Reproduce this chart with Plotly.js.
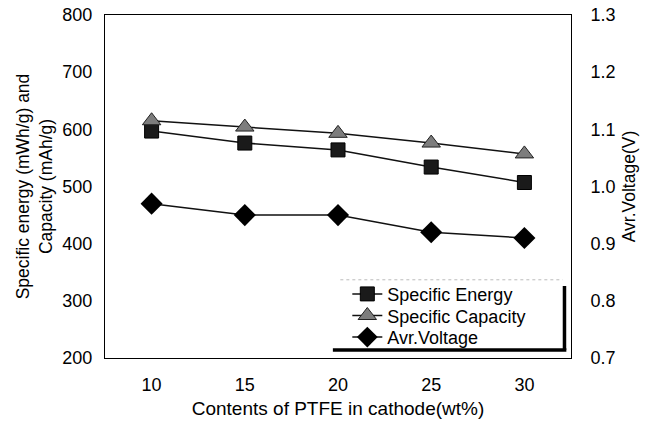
<!DOCTYPE html>
<html><head><meta charset="utf-8">
<script src="https://cdn.plot.ly/plotly-3.0.1.min.js"></script>
<style>body{margin:0;background:#fff}#chart{width:653px;height:424px}</style>
</head><body><div id="chart"></div>
<script>
const ptfe = [10, 15, 20, 25, 30];
const specificEnergy = [597, 576, 564, 534, 507];
const specificCapacity = [615, 604, 593, 576, 557];
const avrVoltage = [0.97, 0.95, 0.95, 0.92, 0.91];
const xTicks = [10, 15, 20, 25, 30];

const lineStyle = {color: '#111', width: 1.5};
const traces = [
  {x: ptfe, y: specificEnergy, name: 'Specific Energy', mode: 'lines+markers', line: lineStyle, legend: 'legend',
   marker: {symbol: 'square', size: 14, color: '#1a1a1a', line: {color: '#000', width: 1}}},
  {x: ptfe, y: specificCapacity, name: 'Specific Capacity', mode: 'lines+markers', line: lineStyle, legend: 'legend2',
   marker: {symbol: 'triangle-up', size: 16, color: '#7d7d7d', line: {color: '#222', width: 1}}},
  {x: ptfe, y: avrVoltage, name: 'Avr.Voltage', yaxis: 'y2', mode: 'lines+markers', line: lineStyle, legend: 'legend3',
   marker: {symbol: 'diamond', size: 17, color: '#000'}}
];

const fam = 'Liberation Sans, Arial, sans-serif';
const tickFont = {family: fam, size: 18, color: '#000'};
const titleFont = {family: fam, size: 17.5, color: '#000'};
const legFont = {family: fam, size: 18, color: '#000'};
function leg(y) {
  return {x: 0.52, y: y, xanchor: 'left', yanchor: 'middle', bgcolor: 'rgba(0,0,0,0)', borderwidth: 0,
    font: legFont, itemwidth: 30};
}
const layout = {
  width: 653, height: 424,
  margin: {l: 105, r: 82, t: 15, b: 66},
  paper_bgcolor: '#fff', plot_bgcolor: '#fff',
  font: tickFont,
  showlegend: true,
  xaxis: {range: [7.5, 32.5], tickvals: xTicks, ticktext: xTicks.map(String), showgrid: false, zeroline: false,
    showline: true, mirror: true, linecolor: '#000', linewidth: 1, ticks: '', tickfont: tickFont, ticklabelstandoff: 10,
    title: {text: 'Contents of PTFE in cathode(wt%)', font: {family: fam, size: 19, color: '#000'}, standoff: 8}},
  yaxis: {range: [200, 800], dtick: 100, showgrid: false, zeroline: false,
    showline: true, linecolor: '#000', linewidth: 1, ticks: '', tickfont: tickFont, ticklabelstandoff: 8,
    title: {text: 'Specific energy (mWh/g) and<br>Capacity (mAh/g)', font: titleFont, standoff: 5}},
  yaxis2: {range: [0.7, 1.3], dtick: 0.1, tickformat: '.1f', overlaying: 'y', side: 'right', showgrid: false, zeroline: false,
    showline: true, linecolor: '#000', linewidth: 1, ticks: '', tickfont: tickFont, ticklabelstandoff: 15,
    title: {text: 'Avr.Voltage(V)', font: titleFont, standoff: 8}},
  legend: leg(0.186),
  legend2: leg(0.123),
  legend3: leg(0.060),
  shapes: [
    {type: 'rect', xref: 'paper', yref: 'paper', layer: 'above', x0: 0.505, x1: 0.986, y0: 0.025, y1: 0.228,
     fillcolor: '#fff', line: {width: 0}},
    {type: 'line', xref: 'paper', yref: 'paper', layer: 'above', x0: 0.505, x1: 0.982, y0: 0.228, y1: 0.228,
     line: {color: '#bbb', width: 1, dash: 'dot'}},
    {type: 'line', xref: 'paper', yref: 'paper', layer: 'above', x0: 0.986, x1: 0.986, y0: 0.023, y1: 0.21,
     line: {color: '#000', width: 3.5}},
    {type: 'line', xref: 'paper', yref: 'paper', layer: 'above', x0: 0.489, x1: 0.99, y0: 0.023, y1: 0.023,
     line: {color: '#000', width: 3.5}}
  ]
};
Plotly.newPlot('chart', traces, layout, {staticPlot: true, displayModeBar: false});
</script></body></html>
